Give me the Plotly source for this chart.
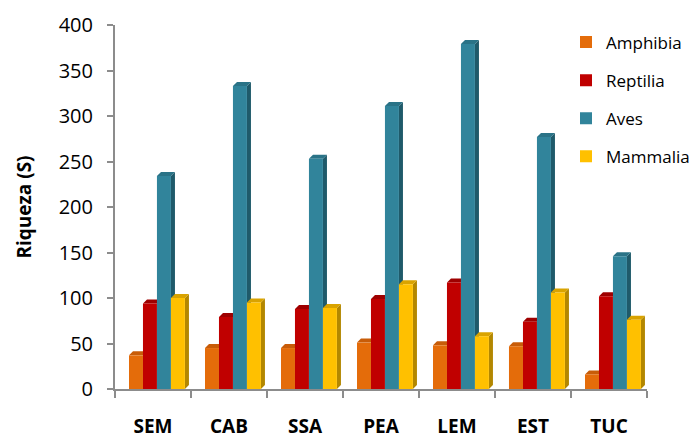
import plotly.graph_objects as go

# Species richness per site and vertebrate class
sites = ["SEM", "CAB", "SSA", "PEA", "LEM", "EST", "TUC"]
amphibia = [37, 45, 45, 51, 48, 47, 16]
reptilia = [94, 79, 88, 99, 117, 74, 102]
aves = [234, 333, 253, 311, 379, 277, 146]
mammalia = [100, 95, 89, 115, 58, 106, 76]

series = [
    ("Amphibia", amphibia, "#E46C0A", "#A84E06", "#C85C08"),
    ("Reptilia", reptilia, "#C00000", "#860000", "#9E0000"),
    ("Aves", aves, "#31849B", "#1F5A6A", "#2A7387"),
    ("Mammalia", mammalia, "#FFC000", "#B38700", "#D9A300"),
]

bar_w = 0.184        # bar width in category units
first_off = -0.316   # left edge of the first bar relative to the category centre
depth_x = 0.053      # pseudo-3D depth (x, category units)
depth_y = 4.4        # pseudo-3D depth (y, data units)

FONT = "Open Sans, Calibri, sans-serif"

fig = go.Figure()
shapes = []
for k, (name, vals, front, side, top) in enumerate(series):
    off = first_off + k * bar_w
    fig.add_trace(go.Bar(
        x=sites, y=vals, name=name, marker_color=front,
        marker_line_width=0, width=bar_w, offset=off,
        legendgroup=name,
    ))
    for i, v in enumerate(vals):
        x0 = i + off
        x1 = x0 + bar_w
        # right side face
        shapes.append(dict(
            type="path", xref="x", yref="y", layer="below",
            path=f"M{x1},0 L{x1 + depth_x},{depth_y} L{x1 + depth_x},{v + depth_y} L{x1},{v} Z",
            fillcolor=side, line_width=0,
        ))
        # top face
        shapes.append(dict(
            type="path", xref="x", yref="y", layer="below",
            path=f"M{x0},{v} L{x0 + depth_x},{v + depth_y} L{x1 + depth_x},{v + depth_y} L{x1},{v} Z",
            fillcolor=top, line_width=0,
        ))

axis_grey = "#8C8C8C"
plot_l, plot_r, plot_t, plot_b = 115, 48, 25, 50
plot_w = 695 - plot_l - plot_r
plot_h = 439 - plot_t - plot_b
fig.update_layout(
    width=695, height=439,
    margin=dict(l=plot_l, r=plot_r, t=plot_t, b=plot_b, autoexpand=False),
    paper_bgcolor="white", plot_bgcolor="white",
    barmode="group",
    shapes=shapes,
    font=dict(family=FONT, size=17, color="#000000"),
    showlegend=True,
    legend=dict(
        x=(566 - plot_l) / plot_w, y=1 + 0.5 / plot_h, yanchor="top",
        font=dict(size=17), tracegroupgap=13,
        bgcolor="rgba(0,0,0,0)",
    ),
    xaxis=dict(
        type="category", range=[-0.5, 6.5], automargin=False,
        showline=True, linecolor=axis_grey, linewidth=2,
        ticks="outside", tickson="boundaries", ticklen=7,
        tickcolor=axis_grey, tickwidth=2,
        tickfont=dict(size=19, family=FONT, weight="bold"),
        ticklabelstandoff=19,
        showgrid=False, zeroline=False,
    ),
    yaxis=dict(
        range=[0, 400], tickvals=list(range(0, 401, 50)), automargin=False,
        showline=True, linecolor=axis_grey, linewidth=2,
        ticks="outside", ticklen=6, tickcolor=axis_grey, tickwidth=2,
        tickfont=dict(size=20),
        ticklabelstandoff=10,
        showgrid=False, zeroline=False,
        title=dict(text="Riqueza (S)", font=dict(size=19, weight="bold"), standoff=22),
    ),
)

fig.write_html("out.html")
